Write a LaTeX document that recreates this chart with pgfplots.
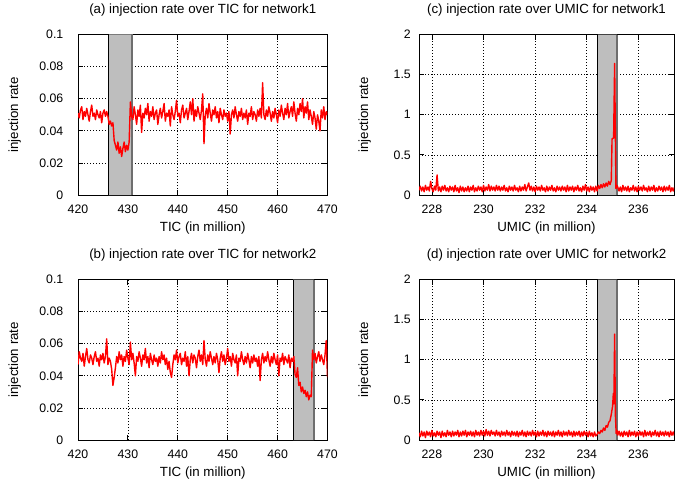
\documentclass[border=0pt]{standalone}
\usepackage{fontspec}
\setmainfont{Liberation Sans}
\usepackage{pgfplots}
\pgfplotsset{compat=1.18}
\definecolor{shade}{RGB}{190,190,190}
\definecolor{shedge}{RGB}{110,110,110}
\pgfplotsset{
  gp/.style={
    scale only axis, height=160.5pt, anchor=south west,
    axis line style={black, line width=1pt},
    every tick/.style={black, line width=0.8pt},
    tick align=inside, major tick length=5pt,
    xtick pos=both, ytick pos=both,
    xticklabel pos=bottom, yticklabel pos=left,
    grid=major, major grid style={black, line width=0.7pt, dash pattern=on 1pt off 2pt},
    scaled ticks=false,
    /pgf/number format/assume math mode=true,
    yticklabel style={/pgf/number format/fixed, /pgf/number format/precision=2},
    xticklabel style={/pgf/number format/fixed, /pgf/number format/1000 sep={}},
    ticklabel style={font=\fontsize{12.3}{14}\selectfont, inner sep=0pt},
    xticklabel style={anchor=base, yshift=-18pt},
    label style={font=\fontsize{13.3}{15}\selectfont, inner sep=0pt},
    title style={font=\fontsize{13.3}{15}\selectfont, anchor=base, inner sep=0pt,
                 at={([yshift=15pt]axis description cs:0.5,1)}},
    xlabel style={anchor=base, at={([yshift=-36.5pt]axis description cs:0.5,0)}},
    ylabel style={anchor=base},
  },
  tic/.style={gp, width=249.5pt, xmin=420, xmax=470, ymin=0, ymax=0.1,
    xtick={420,430,440,450,460,470}, ytick={0,0.02,0.04,0.06,0.08,0.1},
    yticklabel style={anchor=east, xshift=-14.5pt},
    ylabel style={at={([xshift=-60pt]axis description cs:0,0.5)}},
    xlabel={TIC (in million)}, ylabel={injection rate}},
  umic/.style={gp, width=255pt, xmin=227.5, xmax=237.38, ymin=0, ymax=2,
    xtick={228,230,232,234,236}, ytick={0,0.5,1,1.5,2},
    yticklabel style={anchor=east, xshift=-8pt},
    ylabel style={at={([xshift=-51pt]axis description cs:0,0.5)}},
    xlabel={UMIC (in million)}, ylabel={injection rate}},
  dat/.style={red, line width=1.4pt, line join=round},
}
\begin{document}
\begin{tikzpicture}
\path (0pt,0pt) rectangle (675pt,483pt);

% (a)
\begin{axis}[tic, at={(78pt,288pt)}, title={(a) injection rate over TIC for network1}]
\addplot[fill=shade, draw=none] coordinates {(426.1,0) (426.1,0.1) (430.8,0.1) (430.8,0)} \closedcycle;
\addplot[black, line width=1pt] coordinates {(426.1,0) (426.1,0.1)};
\addplot[shedge, line width=1.6pt] coordinates {(430.8,0) (430.8,0.1)};
\addplot[dat] table[row sep=\\] {x y\\
420.00 .051\\ 420.25 .048\\ 420.50 .053\\ 420.75 .055\\ 421.00 .047\\ 421.25 .052\\ 421.50 .049\\ 421.75 .054\\
422.00 .050\\ 422.25 .046\\ 422.50 .052\\ 422.75 .056\\ 423.00 .049\\ 423.25 .051\\ 423.50 .047\\ 423.75 .053\\
424.00 .050\\ 424.25 .048\\ 424.50 .052\\ 424.75 .045\\ 425.00 .051\\ 425.25 .053\\ 425.50 .049\\ 425.75 .052\\
426.00 .049\\ 426.25 .044\\ 426.50 .046\\ 426.75 .043\\ 427.00 .045\\ 427.25 .034\\ 427.50 .031\\ 427.75 .028\\
428.00 .033\\ 428.25 .026\\ 428.50 .030\\ 428.75 .024\\ 429.00 .029\\ 429.25 .033\\ 429.50 .027\\ 429.75 .031\\
430.00 .028\\ 430.25 .033\\ 430.50 .058\\ 430.75 .049\\ 431.00 .047\\ 431.25 .055\\ 431.50 .050\\ 431.75 .044\\
432.00 .053\\ 432.25 .049\\ 432.50 .056\\ 432.75 .039\\ 433.00 .051\\ 433.25 .048\\ 433.50 .054\\ 433.75 .050\\
434.00 .057\\ 434.25 .046\\ 434.50 .052\\ 434.75 .049\\ 435.00 .055\\ 435.25 .047\\ 435.50 .051\\ 435.75 .053\\
436.00 .044\\ 436.25 .050\\ 436.50 .054\\ 436.75 .048\\ 437.00 .052\\ 437.25 .057\\ 437.50 .046\\ 437.75 .051\\
438.00 .049\\ 438.25 .053\\ 438.50 .043\\ 438.75 .055\\ 439.00 .050\\ 439.25 .047\\ 439.50 .052\\ 439.75 .059\\
440.00 .049\\ 440.25 .051\\ 440.50 .045\\ 440.75 .053\\ 441.00 .056\\ 441.25 .048\\ 441.50 .051\\ 441.75 .054\\
442.00 .047\\ 442.25 .052\\ 442.50 .058\\ 442.75 .050\\ 443.00 .060\\ 443.25 .046\\ 443.50 .053\\ 443.75 .049\\
444.00 .055\\ 444.25 .051\\ 444.50 .047\\ 444.75 .053\\ 445.00 .063\\ 445.25 .032\\ 445.50 .050\\ 445.75 .054\\
446.00 .048\\ 446.25 .057\\ 446.50 .051\\ 446.75 .046\\ 447.00 .053\\ 447.25 .050\\ 447.50 .055\\ 447.75 .048\\
448.00 .052\\ 448.25 .045\\ 448.50 .054\\ 448.75 .050\\ 449.00 .047\\ 449.25 .053\\ 449.50 .049\\ 449.75 .051\\
450.00 .046\\ 450.25 .052\\ 450.50 .038\\ 450.75 .050\\ 451.00 .053\\ 451.25 .048\\ 451.50 .055\\ 451.75 .050\\
452.00 .046\\ 452.25 .052\\ 452.50 .049\\ 452.75 .054\\ 453.00 .047\\ 453.25 .051\\ 453.50 .048\\ 453.75 .053\\
454.00 .044\\ 454.25 .051\\ 454.50 .049\\ 454.75 .055\\ 455.00 .047\\ 455.25 .052\\ 455.50 .050\\ 455.75 .046\\
456.00 .053\\ 456.25 .049\\ 456.50 .054\\ 456.75 .048\\ 457.00 .070\\ 457.25 .050\\ 457.50 .047\\ 457.75 .053\\
458.00 .049\\ 458.25 .055\\ 458.50 .051\\ 458.75 .046\\ 459.00 .052\\ 459.25 .048\\ 459.50 .054\\ 459.75 .050\\
460.00 .045\\ 460.25 .053\\ 460.50 .049\\ 460.75 .056\\ 461.00 .051\\ 461.25 .047\\ 461.50 .054\\ 461.75 .050\\
462.00 .057\\ 462.25 .048\\ 462.50 .052\\ 462.75 .055\\ 463.00 .049\\ 463.25 .058\\ 463.50 .051\\ 463.75 .046\\
464.00 .054\\ 464.25 .050\\ 464.50 .057\\ 464.75 .052\\ 465.00 .060\\ 465.25 .048\\ 465.50 .055\\ 465.75 .051\\
466.00 .058\\ 466.25 .047\\ 466.50 .053\\ 466.75 .049\\ 467.00 .044\\ 467.25 .052\\ 467.50 .048\\ 467.75 .041\\
468.00 .050\\ 468.25 .046\\ 468.50 .040\\ 468.75 .053\\ 469.00 .048\\ 469.25 .055\\ 469.50 .047\\ 469.75 .052\\
470.00 .050\\
};
\end{axis}

% (b)
\begin{axis}[tic, at={(78pt,43pt)}, title={(b) injection rate over TIC for network2}]
\addplot[fill=shade, draw=none] coordinates {(463.1,0) (463.1,0.1) (467.3,0.1) (467.3,0)} \closedcycle;
\addplot[black, line width=1pt] coordinates {(463.1,0) (463.1,0.1)};
\addplot[shedge, line width=1.6pt] coordinates {(467.3,0) (467.3,0.1)};
\addplot[dat] table[row sep=\\] {x y\\
420.00 .047\\ 420.25 .055\\ 420.50 .051\\ 420.75 .049\\ 421.00 .054\\ 421.25 .046\\ 421.50 .052\\ 421.75 .057\\
422.00 .050\\ 422.25 .048\\ 422.50 .053\\ 422.75 .051\\ 423.00 .047\\ 423.25 .052\\ 423.50 .055\\ 423.75 .049\\
424.00 .051\\ 424.25 .046\\ 424.50 .053\\ 424.75 .050\\ 425.00 .054\\ 425.25 .048\\ 425.50 .052\\ 425.75 .063\\
426.00 .047\\ 426.25 .051\\ 426.50 .049\\ 426.75 .044\\ 427.00 .034\\ 427.25 .039\\ 427.50 .045\\ 427.75 .052\\
428.00 .048\\ 428.25 .055\\ 428.50 .050\\ 428.75 .053\\ 429.00 .046\\ 429.25 .052\\ 429.50 .049\\ 429.75 .056\\
430.00 .051\\ 430.25 .047\\ 430.50 .061\\ 430.75 .050\\ 431.00 .054\\ 431.25 .048\\ 431.50 .040\\ 431.75 .052\\
432.00 .049\\ 432.25 .055\\ 432.50 .051\\ 432.75 .046\\ 433.00 .053\\ 433.25 .050\\ 433.50 .057\\ 433.75 .048\\
434.00 .052\\ 434.25 .045\\ 434.50 .054\\ 434.75 .050\\ 435.00 .047\\ 435.25 .053\\ 435.50 .049\\ 435.75 .051\\
436.00 .046\\ 436.25 .052\\ 436.50 .048\\ 436.75 .055\\ 437.00 .050\\ 437.25 .053\\ 437.50 .047\\ 437.75 .051\\
438.00 .044\\ 438.25 .049\\ 438.50 .042\\ 438.75 .039\\ 439.00 .047\\ 439.25 .053\\ 439.50 .050\\ 439.75 .056\\
440.00 .048\\ 440.25 .052\\ 440.50 .054\\ 440.75 .047\\ 441.00 .051\\ 441.25 .049\\ 441.50 .055\\ 441.75 .046\\
442.00 .052\\ 442.25 .040\\ 442.50 .050\\ 442.75 .054\\ 443.00 .048\\ 443.25 .053\\ 443.50 .051\\ 443.75 .045\\
444.00 .052\\ 444.25 .056\\ 444.50 .049\\ 444.75 .053\\ 445.00 .047\\ 445.25 .062\\ 445.50 .050\\ 445.75 .046\\
446.00 .053\\ 446.25 .049\\ 446.50 .055\\ 446.75 .051\\ 447.00 .047\\ 447.25 .052\\ 447.50 .048\\ 447.75 .054\\
448.00 .050\\ 448.25 .042\\ 448.50 .051\\ 448.75 .055\\ 449.00 .049\\ 449.25 .053\\ 449.50 .047\\ 449.75 .051\\
450.00 .057\\ 450.25 .049\\ 450.50 .052\\ 450.75 .046\\ 451.00 .054\\ 451.25 .050\\ 451.50 .048\\ 451.75 .053\\
452.00 .040\\ 452.25 .051\\ 452.50 .049\\ 452.75 .055\\ 453.00 .050\\ 453.25 .047\\ 453.50 .052\\ 453.75 .048\\
454.00 .054\\ 454.25 .050\\ 454.50 .045\\ 454.75 .052\\ 455.00 .048\\ 455.25 .053\\ 455.50 .049\\ 455.75 .051\\
456.00 .046\\ 456.25 .052\\ 456.50 .037\\ 456.75 .050\\ 457.00 .054\\ 457.25 .048\\ 457.50 .052\\ 457.75 .049\\
458.00 .055\\ 458.25 .050\\ 458.50 .046\\ 458.75 .052\\ 459.00 .048\\ 459.25 .054\\ 459.50 .050\\ 459.75 .047\\
460.00 .053\\ 460.25 .040\\ 460.50 .051\\ 460.75 .049\\ 461.00 .054\\ 461.25 .047\\ 461.50 .052\\ 461.75 .050\\
462.00 .048\\ 462.25 .053\\ 462.50 .045\\ 462.75 .051\\ 463.00 .049\\ 463.25 .052\\ 463.50 .041\\ 463.75 .039\\
464.00 .045\\ 464.25 .034\\ 464.50 .036\\ 464.75 .030\\ 465.00 .033\\ 465.25 .029\\ 465.50 .031\\ 465.75 .027\\
466.00 .030\\ 466.25 .025\\ 466.50 .028\\ 466.75 .027\\ 467.00 .056\\ 467.25 .050\\ 467.50 .054\\ 467.75 .048\\
468.00 .052\\ 468.25 .055\\ 468.50 .049\\ 468.75 .053\\ 469.00 .050\\ 469.25 .047\\ 469.50 .053\\ 469.75 .062\\
470.00 .039\\
};
\end{axis}

% (c)
\begin{axis}[umic, at={(419pt,288pt)}, title={(c) injection rate over UMIC for network1}]
\addplot[fill=shade, draw=none] coordinates {(234.43,0) (234.43,2) (235.18,2) (235.18,0)} \closedcycle;
\addplot[black, line width=1pt] coordinates {(234.43,0) (234.43,2)};
\addplot[shedge, line width=1.6pt] coordinates {(235.18,0) (235.18,2)};
\addplot[dat] table[row sep=\\] {x y\\
227.50 .06\\ 227.55 .11\\ 227.60 .05\\ 227.65 .10\\ 227.70 .04\\ 227.75 .12\\ 227.80 .06\\ 227.85 .10\\
227.90 .05\\ 227.95 .17\\ 228.00 .08\\ 228.05 .04\\ 228.10 .11\\ 228.15 .06\\ 228.20 .25\\ 228.25 .05\\
228.30 .10\\ 228.35 .04\\ 228.40 .11\\ 228.45 .06\\ 228.50 .12\\ 228.55 .05\\ 228.60 .09\\ 228.65 .04\\
228.70 .11\\ 228.75 .06\\ 228.80 .10\\ 228.85 .04\\ 228.90 .12\\ 228.95 .05\\ 229.00 .09\\ 229.05 .03\\
229.10 .11\\ 229.15 .05\\ 229.20 .10\\ 229.25 .04\\ 229.30 .09\\ 229.35 .05\\ 229.40 .11\\ 229.45 .04\\
229.50 .10\\ 229.55 .06\\ 229.60 .12\\ 229.65 .04\\ 229.70 .09\\ 229.75 .05\\ 229.80 .11\\ 229.85 .06\\
229.90 .10\\ 229.95 .04\\ 230.00 .12\\ 230.05 .05\\ 230.10 .10\\ 230.15 .06\\ 230.20 .13\\ 230.25 .05\\
230.30 .11\\ 230.35 .06\\ 230.40 .10\\ 230.45 .05\\ 230.50 .12\\ 230.55 .06\\ 230.60 .11\\ 230.65 .05\\
230.70 .10\\ 230.75 .06\\ 230.80 .12\\ 230.85 .05\\ 230.90 .09\\ 230.95 .04\\ 231.00 .11\\ 231.05 .06\\
231.10 .10\\ 231.15 .05\\ 231.20 .12\\ 231.25 .06\\ 231.30 .09\\ 231.35 .04\\ 231.40 .11\\ 231.45 .05\\
231.50 .10\\ 231.55 .06\\ 231.60 .13\\ 231.65 .05\\ 231.70 .10\\ 231.75 .15\\ 231.80 .06\\ 231.85 .11\\
231.90 .05\\ 231.95 .10\\ 232.00 .04\\ 232.05 .11\\ 232.10 .06\\ 232.15 .10\\ 232.20 .05\\ 232.25 .12\\
232.30 .06\\ 232.35 .09\\ 232.40 .04\\ 232.45 .11\\ 232.50 .05\\ 232.55 .10\\ 232.60 .06\\ 232.65 .12\\
232.70 .05\\ 232.75 .09\\ 232.80 .04\\ 232.85 .11\\ 232.90 .06\\ 232.95 .10\\ 233.00 .05\\ 233.05 .11\\
233.10 .06\\ 233.15 .10\\ 233.20 .04\\ 233.25 .12\\ 233.30 .05\\ 233.35 .10\\ 233.40 .06\\ 233.45 .11\\
233.50 .04\\ 233.55 .10\\ 233.60 .06\\ 233.65 .12\\ 233.70 .05\\ 233.75 .09\\ 233.80 .04\\ 233.85 .11\\
233.90 .06\\ 233.95 .13\\ 234.00 .05\\ 234.05 .10\\ 234.10 .04\\ 234.15 .11\\ 234.20 .06\\ 234.25 .10\\
234.30 .04\\ 234.35 .11\\ 234.40 .05\\ 234.45 .12\\ 234.50 .08\\ 234.55 .13\\ 234.60 .09\\ 234.65 .14\\
234.70 .10\\ 234.75 .15\\ 234.80 .11\\ 234.85 .17\\ 234.90 .13\\ 234.95 .18\\ 234.98 .70\\ 235.04 .71\\
235.08 1.64\\ 235.13 .08\\ 235.17 .12\\ 235.20 .10\\ 235.25 .05\\ 235.30 .10\\ 235.35 .04\\ 235.40 .12\\
235.45 .06\\ 235.50 .10\\ 235.55 .05\\ 235.60 .11\\ 235.65 .04\\ 235.70 .09\\ 235.75 .06\\ 235.80 .12\\
235.85 .05\\ 235.90 .10\\ 235.95 .04\\ 236.00 .11\\ 236.05 .06\\ 236.10 .10\\ 236.15 .05\\ 236.20 .12\\
236.25 .06\\ 236.30 .09\\ 236.35 .04\\ 236.40 .11\\ 236.45 .05\\ 236.50 .10\\ 236.55 .06\\ 236.60 .12\\
236.65 .04\\ 236.70 .09\\ 236.75 .05\\ 236.80 .11\\ 236.85 .06\\ 236.90 .10\\ 236.95 .04\\ 237.00 .11\\
237.05 .05\\ 237.10 .10\\ 237.15 .06\\ 237.20 .12\\ 237.25 .04\\ 237.30 .09\\ 237.35 .05\\ 237.40 .10\\
};
\end{axis}

% (d)
\begin{axis}[umic, at={(419pt,43pt)}, title={(d) injection rate over UMIC for network2}]
\addplot[fill=shade, draw=none] coordinates {(234.43,0) (234.43,2) (235.18,2) (235.18,0)} \closedcycle;
\addplot[black, line width=1pt] coordinates {(234.43,0) (234.43,2)};
\addplot[shedge, line width=1.6pt] coordinates {(235.18,0) (235.18,2)};
\addplot[dat] table[row sep=\\] {x y\\
227.50 .09\\ 227.55 .04\\ 227.60 .11\\ 227.65 .05\\ 227.70 .10\\ 227.75 .03\\ 227.80 .11\\ 227.85 .06\\
227.90 .10\\ 227.95 .04\\ 228.00 .12\\ 228.05 .05\\ 228.10 .09\\ 228.15 .04\\ 228.20 .11\\ 228.25 .06\\
228.30 .10\\ 228.35 .03\\ 228.40 .11\\ 228.45 .05\\ 228.50 .09\\ 228.55 .04\\ 228.60 .12\\ 228.65 .06\\
228.70 .10\\ 228.75 .04\\ 228.80 .11\\ 228.85 .05\\ 228.90 .10\\ 228.95 .06\\ 229.00 .12\\ 229.05 .04\\
229.10 .10\\ 229.15 .05\\ 229.20 .11\\ 229.25 .06\\ 229.30 .12\\ 229.35 .04\\ 229.40 .10\\ 229.45 .06\\
229.50 .11\\ 229.55 .05\\ 229.60 .10\\ 229.65 .04\\ 229.70 .12\\ 229.75 .06\\ 229.80 .10\\ 229.85 .05\\
229.90 .12\\ 229.95 .06\\ 230.00 .11\\ 230.05 .05\\ 230.10 .13\\ 230.15 .06\\ 230.20 .11\\ 230.25 .05\\
230.30 .12\\ 230.35 .07\\ 230.40 .10\\ 230.45 .05\\ 230.50 .12\\ 230.55 .06\\ 230.60 .10\\ 230.65 .04\\
230.70 .11\\ 230.75 .06\\ 230.80 .10\\ 230.85 .05\\ 230.90 .12\\ 230.95 .06\\ 231.00 .10\\ 231.05 .04\\
231.10 .11\\ 231.15 .06\\ 231.20 .10\\ 231.25 .05\\ 231.30 .11\\ 231.35 .04\\ 231.40 .10\\ 231.45 .06\\
231.50 .12\\ 231.55 .05\\ 231.60 .10\\ 231.65 .04\\ 231.70 .11\\ 231.75 .06\\ 231.80 .10\\ 231.85 .05\\
231.90 .12\\ 231.95 .06\\ 232.00 .10\\ 232.05 .04\\ 232.10 .11\\ 232.15 .05\\ 232.20 .10\\ 232.25 .06\\
232.30 .12\\ 232.35 .05\\ 232.40 .10\\ 232.45 .04\\ 232.50 .11\\ 232.55 .06\\ 232.60 .10\\ 232.65 .05\\
232.70 .11\\ 232.75 .04\\ 232.80 .10\\ 232.85 .06\\ 232.90 .12\\ 232.95 .05\\ 233.00 .10\\ 233.05 .04\\
233.10 .11\\ 233.15 .06\\ 233.20 .10\\ 233.25 .05\\ 233.30 .12\\ 233.35 .06\\ 233.40 .10\\ 233.45 .04\\
233.50 .11\\ 233.55 .05\\ 233.60 .10\\ 233.65 .06\\ 233.70 .11\\ 233.75 .04\\ 233.80 .10\\ 233.85 .05\\
233.90 .11\\ 233.95 .06\\ 234.00 .10\\ 234.05 .04\\ 234.10 .11\\ 234.15 .05\\ 234.20 .09\\ 234.25 .04\\
234.30 .10\\ 234.35 .05\\ 234.40 .07\\ 234.45 .10\\ 234.50 .08\\ 234.55 .12\\ 234.60 .10\\ 234.65 .15\\
234.70 .12\\ 234.75 .18\\ 234.80 .16\\ 234.85 .22\\ 234.90 .24\\ 234.95 .32\\ 235.00 .42\\ 235.03 .58\\
235.05 .45\\ 235.08 1.32\\ 235.11 .30\\ 235.14 .08\\ 235.17 .12\\ 235.20 .06\\ 235.25 .11\\ 235.30 .05\\
235.35 .10\\ 235.40 .04\\ 235.45 .11\\ 235.50 .06\\ 235.55 .10\\ 235.60 .04\\ 235.65 .12\\ 235.70 .05\\
235.75 .10\\ 235.80 .06\\ 235.85 .11\\ 235.90 .04\\ 235.95 .10\\ 236.00 .05\\ 236.05 .11\\ 236.10 .06\\
236.15 .10\\ 236.20 .04\\ 236.25 .12\\ 236.30 .05\\ 236.35 .10\\ 236.40 .06\\ 236.45 .11\\ 236.50 .04\\
236.55 .10\\ 236.60 .06\\ 236.65 .12\\ 236.70 .05\\ 236.75 .10\\ 236.80 .04\\ 236.85 .11\\ 236.90 .06\\
236.95 .10\\ 237.00 .05\\ 237.05 .11\\ 237.10 .06\\ 237.15 .10\\ 237.20 .04\\ 237.25 .11\\ 237.30 .06\\
237.35 .10\\ 237.40 .05\\
};
\end{axis}
\end{tikzpicture}
\end{document}
